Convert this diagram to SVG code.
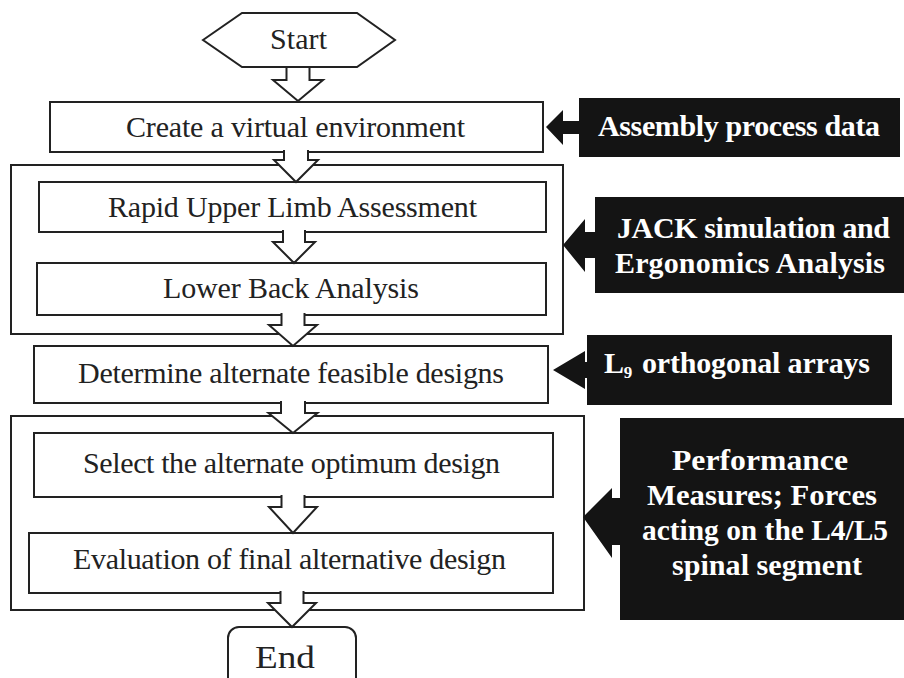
<svg xmlns="http://www.w3.org/2000/svg" width="904" height="678" viewBox="0 0 904 678">
<style>
.box{fill:#fff;stroke:#222;stroke-width:2}
.outer{fill:none;stroke:#222;stroke-width:2}
.arr{fill:#fff;stroke:#222;stroke-width:2;stroke-linejoin:miter}
.blk{fill:#141414}
.t{font-family:"Liberation Serif","Times New Roman",serif;font-size:30px;fill:#222;text-anchor:middle}
.w{font-family:"Liberation Serif","Times New Roman",serif;font-size:30px;font-weight:bold;fill:#fff;text-anchor:middle}
.w2{font-family:"Liberation Serif","Times New Roman",serif;font-size:29px;font-weight:bold;fill:#fff;text-anchor:middle}
</style>
<rect width="904" height="678" fill="#fff"/>

<g id="group1"><rect class="outer" x="11" y="165" width="552" height="169"/></g>
<g id="group2"><rect class="outer" x="11" y="416" width="573" height="194"/></g>

<g id="start">
<polygon class="box" points="203,40 242,13 357,13 395,40 357,67 242,67"/>
<text class="t" x="298.5" y="49" textLength="57">Start</text>
</g>
<g id="create">
<rect class="box" x="50" y="102" width="493" height="50"/>
<text class="t" x="295.5" y="137" textLength="339">Create a virtual environment</text>
</g>
<g id="rula">
<rect class="box" x="39" y="182" width="507" height="50"/>
<text class="t" x="292.5" y="217" textLength="369">Rapid Upper Limb Assessment</text>
</g>
<g id="lowerback">
<rect class="box" x="37" y="263" width="509" height="52"/>
<text class="t" x="291" y="298" textLength="256">Lower Back Analysis</text>
</g>
<g id="determine">
<rect class="box" x="34" y="346" width="514" height="57"/>
<text class="t" x="291" y="383" textLength="426">Determine alternate feasible designs</text>
</g>
<g id="select">
<rect class="box" x="34" y="433" width="519" height="64"/>
<text class="t" x="291.5" y="473" textLength="417">Select the alternate optimum design</text>
</g>
<g id="evaluation">
<rect class="box" x="29" y="533" width="524" height="60"/>
<text class="t" x="289.5" y="569" textLength="433">Evaluation of final alternative design</text>
</g>
<g id="end">
<rect class="box" x="228" y="627" width="128" height="70" rx="11"/>
<text class="t" x="285" y="668" textLength="60" lengthAdjust="spacingAndGlyphs" style="font-size:31px">End</text>
</g>

<g id="assembly">
<rect class="blk" x="579" y="98" width="321" height="59"/>
<text class="w" x="739" y="136" textLength="282">Assembly process data</text>
</g>
<g id="jack">
<rect class="blk" x="595" y="197" width="309" height="96"/>
<text class="w" x="753.5" y="238" textLength="273">JACK simulation and</text>
<text class="w" x="750" y="273" textLength="270">Ergonomics Analysis</text>
</g>
<g id="l9">
<rect class="blk" x="587" y="335" width="305" height="70"/>
<text class="w" x="614" y="373">L</text>
<text class="w" x="628" y="378" style="font-size:17px">9</text>
<text class="w" x="756" y="373" textLength="228">orthogonal arrays</text>
</g>
<g id="performance">
<rect class="blk" x="620" y="418" width="284" height="202"/>
<text class="w2" x="760" y="470" textLength="176" lengthAdjust="spacingAndGlyphs">Performance</text>
<text class="w2" x="762" y="505" textLength="230" lengthAdjust="spacingAndGlyphs">Measures; Forces</text>
<text class="w2" x="765" y="540" textLength="246" lengthAdjust="spacingAndGlyphs">acting on the L4/L5</text>
<text class="w2" x="767" y="575" textLength="190" lengthAdjust="spacingAndGlyphs">spinal segment</text>
</g>

<g id="connectors">
<path class="arr" d="M286.5 68 V80 H273 L298 101 L323 80 H309.5 V68"/>
<path class="arr" d="M284 150 V160 H274 L296 182 L318 160 H308 V150"/>
<path class="arr" d="M283 230 V242 H273 L294 263 L315 242 H305 V230"/>
<path class="arr" d="M281.5 313 V325 H269 L293 346 L317 325 H304.5 V313"/>
<path class="arr" d="M281 401 V413 H268.5 L293 433 L317.5 413 H305 V401"/>
<path class="arr" d="M281.5 495 V507 H269 L293 533 L317 507 H304.5 V495"/>
<path class="arr" d="M280.5 591 V603 H268 L292 627 L316 603 H303.5 V591"/>
<polygon class="blk" points="546,127 563,110 563,121 581,121 581,134 563,134 563,145"/>
<polygon class="blk" points="563,245 585,219 585,232 597,232 597,258 585,258 585,272"/>
<polygon class="blk" points="553,370 585,351 585,362 589,362 589,378 585,378 585,389"/>
<polygon class="blk" points="583,517 612,488 612,498 622,498 622,545 612,545 612,558"/>
</g>
</svg>
